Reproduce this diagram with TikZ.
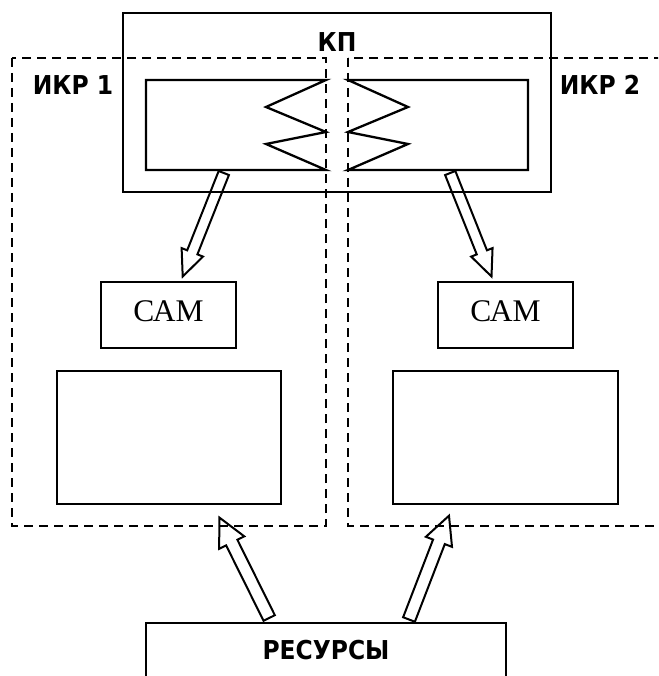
\documentclass[tikz,border=0pt]{standalone}
\usepackage{fontspec}
\setmainfont{Liberation Serif}
\newfontfamily\labfont{DejaVu Sans}[FakeStretch=0.9]
\usetikzlibrary{calc}
\tikzset{
  solidline/.style={line width=2.3pt, line join=miter},
  dashline/.style={line width=2.1pt, dash pattern=on 9pt off 6pt},
  box/.style={draw, solidline, inner sep=0pt, outer sep=0pt},
  harrow/.style={draw, line width=2pt, line join=miter},
  lab/.style={font=\labfont\bfseries\fontsize{26}{30}\selectfont, anchor=base, inner sep=0pt},
  camtext/.style={font=\fontsize{31.5}{34}\selectfont, anchor=base, inner sep=0pt}
}
\newcommand\hollowarr[5]{%
  \coordinate (hb) at ($(#2)!#5!(#1)$);
  \draw[harrow] ($(#1)!#3!90:(#2)$) -- ($(hb)!#3!90:(#2)$) -- ($(hb)!#4!90:(#2)$)
    -- (#2) -- ($(hb)!#4!-90:(#2)$) -- ($(hb)!#3!-90:(#2)$) -- ($(#1)!#3!-90:(#2)$) -- cycle;
}
\begin{document}
\begin{tikzpicture}[x=1pt, y=-1pt]
\useasboundingbox (0,0) rectangle (658,676);
\clip (0,0) rectangle (658,676);
% dashed IKR regions
\draw[dashline] (12,58) rectangle (326,526);
\draw[dashline] (348,58) rectangle (720,526);
% KP box
\node[box, minimum width=428pt, minimum height=179pt] (kp) at (337,102.5) {};
% inner boxes with zigzags
\coordinate (in1) at (146,80);
\coordinate (in2) at (528,80);
\draw[solidline] (326,80) -- (in1) -- (146,170) -- (326,170) -- (266,144) -- (326,132) -- (266,107) -- cycle;
\draw[solidline] (348,80) -- (in2) -- (528,170) -- (348,170) -- (408,144) -- (348,132) -- (408,107) -- cycle;
% CAM boxes
\node[box, minimum width=135pt, minimum height=66pt] (cam1) at (168.5,315) {};
\node[box, minimum width=135pt, minimum height=66pt] (cam2) at (505.5,315) {};
\node[camtext] (cam1t) at (168.5,321) {САМ};
\node[camtext] (cam2t) at (505.5,321) {САМ};
% big boxes
\node[box, minimum width=224pt, minimum height=133pt] (big1) at (169,437.5) {};
\node[box, minimum width=225pt, minimum height=133pt] (big2) at (505.5,437.5) {};
% resources box
\draw[solidline] (146,720) -- (146,623) -- (506,623) -- (506,720);
\coordinate (res) at (326,623);
% labels
\node[lab] (kpl) at (337,52) {КП};
\node[lab] (ikr1) at (73,94.5) {ИКР 1};
\node[lab] (ikr2) at (600,94.5) {ИКР 2};
\node[lab] (resl) at (326,659) {РЕСУРСЫ};
% arrow end points
\coordinate (a1t) at (223.8,173);
\coordinate (a1h) at (182.7,276.5);
\coordinate (a2t) at (450.2,173);
\coordinate (a2h) at (491.5,276.5);
\coordinate (a3t) at (269.2,618);
\coordinate (a3h) at (219.3,517.5);
\coordinate (a4t) at (409,619.5);
\coordinate (a4h) at (449,515.7);
\hollowarr{a1t}{a1h}{5.5pt}{11.5pt}{26pt}
\hollowarr{a2t}{a2h}{5.5pt}{11.5pt}{26pt}
\hollowarr{a3t}{a3h}{6.3pt}{14pt}{28pt}
\hollowarr{a4t}{a4h}{6.3pt}{14pt}{28pt}
\end{tikzpicture}
\end{document}
